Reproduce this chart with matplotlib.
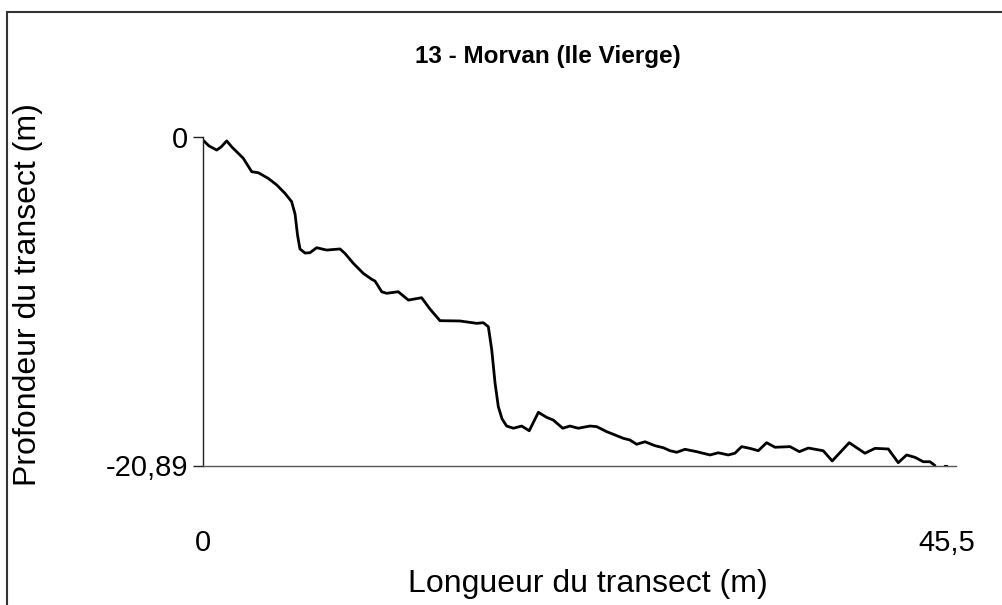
import matplotlib
matplotlib.use("Agg")
import matplotlib.pyplot as plt
from matplotlib.patches import Rectangle

plt.rcParams['font.family'] = ['Liberation Sans', 'DejaVu Sans']

# Donnees du transect
longueur = [0.00, 0.37, 0.84, 1.10, 1.45, 1.77, 2.16, 2.46, 2.98, 3.38,
            3.99, 4.51, 5.01, 5.42, 5.63, 5.78, 5.93, 6.24, 6.54, 6.95,
            7.56, 8.38, 8.68, 9.19, 9.80, 10.32, 10.52, 10.93, 11.23, 11.94,
            12.56, 13.37, 13.88, 14.49, 15.72, 16.74, 17.14, 17.45, 17.66, 17.86,
            18.06, 18.29, 18.57, 18.98, 19.49, 19.95, 20.51, 21.02, 21.42, 22.00,
            22.44, 22.95, 23.67, 24.08, 24.69, 25.20, 25.70, 26.11, 26.52, 27.03,
            27.64, 28.15, 28.56, 28.97, 29.48, 30.19, 31.01, 31.51, 32.12, 32.53,
            32.94, 33.45, 33.96, 34.47, 34.98, 35.90, 36.47, 37.02, 37.93, 38.48,
            39.52, 40.48, 41.10, 41.91, 42.52, 43.03, 43.54, 44.05, 44.46, 44.76]
profondeur = [-0.20, -0.57, -0.83, -0.64, -0.25, -0.64, -1.04, -1.35, -2.21, -2.27,
              -2.63, -3.05, -3.58, -4.11, -4.90, -6.23, -7.12, -7.38, -7.36, -7.04,
              -7.19, -7.12, -7.40, -8.03, -8.67, -9.05, -9.16, -9.84, -9.94, -9.84,
              -10.37, -10.22, -10.94, -11.68, -11.70, -11.85, -11.81, -12.06, -13.55, -15.64,
              -17.15, -17.93, -18.38, -18.52, -18.38, -18.68, -17.51, -17.83, -18.00, -18.52,
              -18.38, -18.52, -18.38, -18.42, -18.74, -18.95, -19.16, -19.27, -19.54, -19.38,
              -19.63, -19.76, -19.95, -20.05, -19.86, -20.01, -20.22, -20.08, -20.22, -20.11,
              -19.69, -19.80, -19.95, -19.44, -19.73, -19.69, -20.01, -19.78, -19.95, -20.60,
              -19.44, -20.11, -19.80, -19.84, -20.71, -20.22, -20.37, -20.65, -20.65, -20.89]
# dernier point isole en fin de transect
fin_x = [45.40, 45.50]
fin_y = [-20.89, -20.89]

xmax = 45.5
ymin = -20.89

fig = plt.figure(figsize=(10.02, 6.05), dpi=100)
ax = fig.add_axes([203/1002, 1 - 465.5/605, 752.7/1002, 328.5/605])

ax.plot(longueur, profondeur, color='black', linewidth=2.0,
        solid_joinstyle='round', solid_capstyle='round')
ax.plot(fin_x, fin_y, color='black', linewidth=1.5)

ax.set_xlim(0, xmax * 752.7 / 744)
ax.set_ylim(ymin, 0)

ax.spines['top'].set_visible(False)
ax.spines['right'].set_visible(False)
ax.spines['left'].set_color('#222222')
ax.spines['bottom'].set_color('#555555')
ax.spines['left'].set_linewidth(1.0)
ax.spines['bottom'].set_linewidth(1.0)

ax.set_yticks([ymin, 0])
ax.set_yticklabels(['-20,89', '0'], fontsize=21)
ax.tick_params(axis='y', length=7.5, width=1.0, color='#222222', pad=3)

ax.set_xticks([0, xmax])
ax.set_xticklabels(['0', '45,5'], fontsize=21)
ax.tick_params(axis='x', length=0, pad=46)

ax.set_xlabel('Longueur du transect (m)', fontsize=23)
ax.xaxis.set_label_coords(588/1002, 1 - 584/605, transform=fig.transFigure)
ax.set_ylabel('Profondeur du transect (m)', fontsize=23)
ax.yaxis.set_label_coords(28/1002, 1 - 295/605, transform=fig.transFigure)
ax.xaxis.label.set_va('center')
ax.yaxis.label.set_va('center')

fig.text(548/1002, 1 - 57/605, '13 - Morvan (Ile Vierge)', ha='center', va='center',
         fontsize=17.5, fontweight='bold')

# cadre du graphique
fig.patches.append(Rectangle((7/1002, -0.1), 1.2, 1 - 12/605 + 0.1,
                             transform=fig.transFigure, fill=False,
                             edgecolor='#333333', linewidth=1.5))

fig.savefig('out.png', dpi=100)
